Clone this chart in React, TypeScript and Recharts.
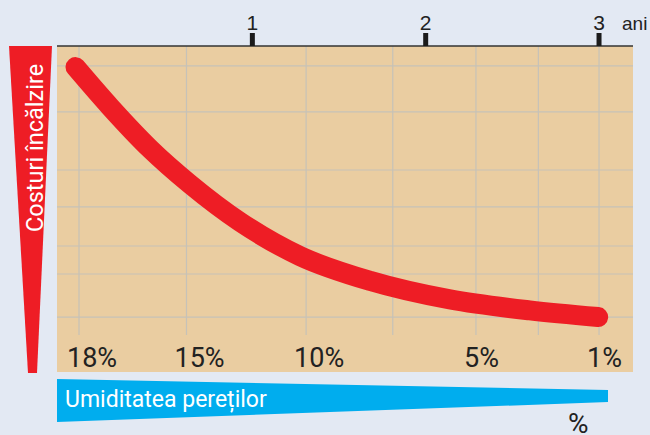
import React from 'react'
import { LineChart, Line, XAxis, YAxis, CartesianGrid } from 'recharts'

// time in years vs heating cost (relative)
const years = [-0.02, 0.18, 0.41, 0.64, 0.93, 1.275, 1.68, 2.14, 2.6, 2.995]
const costs = [92.7, 78.9, 64.4, 52.2, 39.1, 27.3, 18.7, 12.3, 8.5, 6.2]

const yearTicks = [1, 2, 3]
// moment at which the wall humidity reaches each level
const humidityYears = [0, 0.62, 1.31, 2.29, 3]
const humidityLabels = ['18%', '15%', '10%', '5%', '1%']
const extraGridYears = [1.81, 2.65]
const costGrid = [93.1, 77.2, 57.1, 44.3, 30.8, 21.1, 12.8, 6.2]

const data = years.map((t, i) => ({ t, cost: costs[i] }))
const verticalGrid = [...humidityYears, ...extraGridYears].sort((a, b) => a - b)

const PAGE_BG = '#e3e9f3'
const TAN = '#eacda1'
const RED = '#ee1d25'
const BLUE = '#00adee'
const INK = '#222222'

const YearTick = ({ x, y, payload }: any) => (
  <text x={x} y={y - 3} textAnchor="middle" fill={INK}
    style={{ fontFamily: 'Liberation Sans, Arial, sans-serif', fontSize: 21 }}>
    {payload.value}
  </text>
)

const HumidityTick = ({ x, y, payload }: any) => {
  const i = humidityYears.indexOf(payload.value)
  return (
    <text x={x - 12} y={y + 32} textAnchor="start" fill={INK}
      style={{ fontFamily: 'Roboto, sans-serif', fontSize: 27 }}>
      {humidityLabels[i]}
    </text>
  )
}

export default function App() {
  return (
    <div style={{ position: 'absolute', left: 0, top: 0, width: 650, height: 435, background: PAGE_BG, overflow: 'hidden' }}>
      <svg width={650} height={435} style={{ position: 'absolute', left: 0, top: 0 }}>
        <rect x={57} y={46} width={576} height={326} fill={TAN} />
      </svg>
      <div style={{ position: 'absolute', left: 0, top: 0 }}>
        <LineChart width={650} height={435} data={data} margin={{ top: 0, right: 17, bottom: 40, left: 57 }}>
          <CartesianGrid stroke="#c6c2b8" strokeWidth={1.2}
            horizontalValues={costGrid} verticalValues={verticalGrid} />
          <XAxis xAxisId="yr" orientation="top" type="number" dataKey="t"
            domain={[-0.127, 3.196]} allowDataOverflow ticks={yearTicks} height={46}
            axisLine={{ stroke: '#333', strokeWidth: 1.5 }}
            tickLine={{ stroke: '#1b1b1b', strokeWidth: 5 }} tickSize={13} tickMargin={0}
            tick={<YearTick />} interval={0} />
          <XAxis type="number" dataKey="t" domain={[-0.127, 3.196]} allowDataOverflow
            ticks={humidityYears} height={60} axisLine={false} tickLine={false}
            tickSize={0} tickMargin={0} tick={<HumidityTick />} interval={0} />
          <YAxis hide type="number" domain={[0, 100]} allowDataOverflow />
          <Line type="monotone" dataKey="cost" stroke={RED} strokeWidth={20}
            strokeLinecap="round" strokeLinejoin="round" dot={false}
            activeDot={false} isAnimationActive={false} />
        </LineChart>
      </div>
      <svg width={650} height={435} style={{ position: 'absolute', left: 0, top: 0, pointerEvents: 'none' }}>
        <text x={622} y={30} fill={INK} style={{ fontFamily: 'Liberation Sans, Arial, sans-serif', fontSize: 19 }}>ani</text>
        <polygon points="9,46 52,46 37,373 28,373" fill={RED} />
        <text x={43} y={232} transform="rotate(-90 43 232)" fill="#fff"
          style={{ fontFamily: 'Roboto, sans-serif', fontSize: 23.5 }}>Costuri încălzire</text>
        <polygon points="57,379 608,390 608,402 57,422" fill={BLUE} />
        <text x={65} y={407} fill="#fff" style={{ fontFamily: 'Roboto, sans-serif', fontSize: 23 }}>Umiditatea pereților</text>
        <text x={568} y={433} fill={INK} style={{ fontFamily: 'Roboto, sans-serif', fontSize: 28 }}>%</text>
      </svg>
    </div>
  )
}
